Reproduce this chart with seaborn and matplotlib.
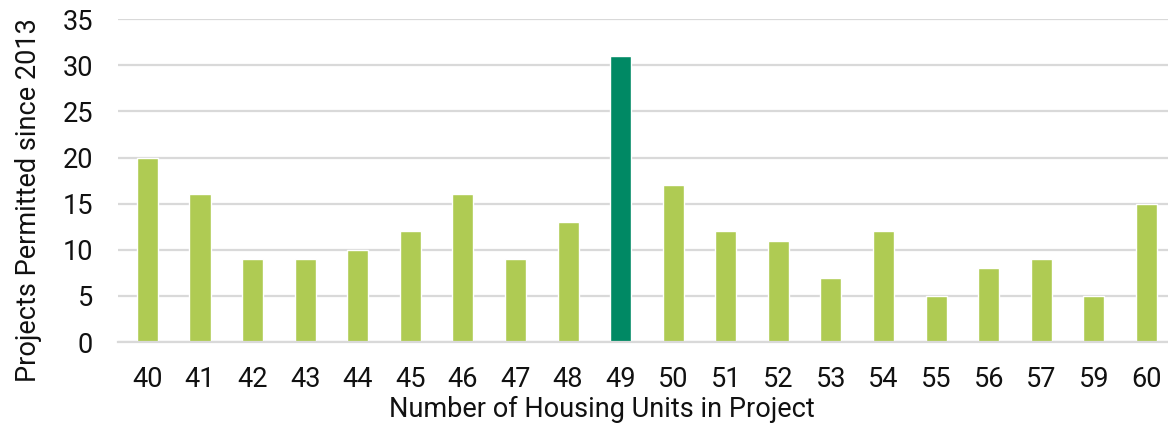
import matplotlib
matplotlib.use("Agg")
import matplotlib.pyplot as plt
import seaborn as sns
import pandas as pd

units = ["40", "41", "42", "43", "44", "45", "46", "47", "48", "49",
         "50", "51", "52", "53", "54", "55", "56", "57", "59", "60"]
projects = [20, 16, 9, 9, 10, 12, 16, 9, 13, 31,
            17, 12, 11, 7, 12, 5, 8, 9, 5, 15]
highlight = "49"

light_green = "#AFCB53"
dark_green = "#008964"

sns.set_theme(style="white")
plt.rcParams["font.family"] = ["Roboto", "DejaVu Sans"]

df = pd.DataFrame({"units": units, "projects": projects})
palette = {u: (dark_green if u == highlight else light_green) for u in units}

fig = plt.figure(figsize=(11.68, 4.25), dpi=100)
ax = fig.add_axes([0.101, 0.195, 0.899, 0.76])

sns.barplot(data=df, x="units", y="projects", hue="units", palette=palette,
            order=units, width=0.4, legend=False, ax=ax, saturation=1)

ax.set_ylim(0, 35)
ax.set_yticks(range(0, 36, 5))
ax.set_xlim(-0.56, 19.41)
ax.yaxis.grid(True, color="#D9D9D9", linewidth=1.6)
ax.set_axisbelow(True)
for side in ["left", "right", "top"]:
    ax.spines[side].set_visible(False)
ax.spines["bottom"].set_color("#D9D9D9")
ax.spines["bottom"].set_linewidth(1.6)
ax.tick_params(axis="both", length=0, labelsize=19.5, colors="#111111")
ax.tick_params(axis="x", pad=17)
ax.tick_params(axis="y", pad=18)
ax.set_xlabel("Number of Housing Units in Project", fontsize=19.5, color="#111111", labelpad=2)
ax.set_ylabel("Projects Permitted since 2013", fontsize=19.5, color="#111111", labelpad=15)
ax.xaxis.label.set_x(0.461)
ax.yaxis.label.set_y(0.44)

fig.savefig("out.png", dpi=100)
